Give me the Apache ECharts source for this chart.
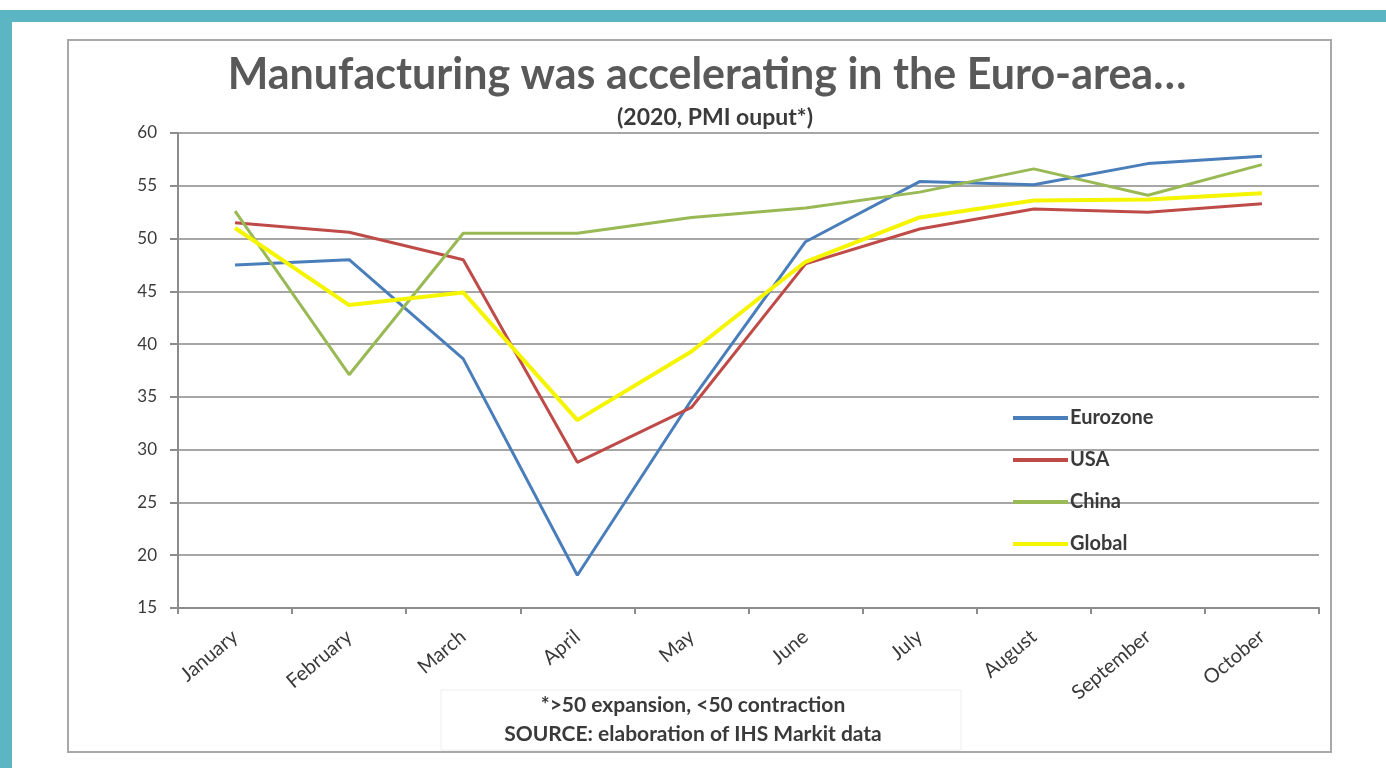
<!DOCTYPE html>
<html>
<head>
<meta charset="utf-8">
<title>Manufacturing PMI output 2020</title>
<script src="https://cdn.jsdelivr.net/npm/echarts@6/dist/echarts.min.js"></script>
<style>
  html, body { margin: 0; padding: 0; background: #ffffff; }
  #chart { width: 1386px; height: 768px; }
</style>
</head>
<body>
<div id="chart"></div>
<script>
// Months of 2020 on the category axis
const months = ['January', 'February', 'March', 'April', 'May', 'June',
  'July', 'August', 'September', 'October'];

// PMI output readings per region
const eurozone = [47.5, 48.0, 38.6, 18.1, 34.7, 49.7, 55.4, 55.1, 57.1, 57.8];
const usa      = [51.5, 50.6, 48.0, 28.8, 34.0, 47.6, 50.9, 52.8, 52.5, 53.3];
const china    = [52.6, 37.1, 50.5, 50.5, 52.0, 52.9, 54.4, 56.6, 54.1, 57.0];
const globalPmi = [51.0, 43.7, 44.9, 32.8, 39.3, 47.8, 52.0, 53.6, 53.7, 54.3];

// Value axis ticks
const yMin = 15, yMax = 60, yStep = 5;

const FONT = 'Lato, "Open Sans", sans-serif';
const TEXT = '#3a3a3a';
const GRID = '#a6a6a6';

const chart = echarts.init(document.getElementById('chart'), null, { renderer: 'canvas' });

const lineSeries = (name, data, color, width) => ({
  name, type: 'line', data,
  symbol: 'none',
  lineStyle: { color, width },
  itemStyle: { color },
  emphasis: { disabled: true }
});

chart.setOption({
  animation: false,
  backgroundColor: '#ffffff',
  title: [
    {
      text: 'Manufacturing was accelerating in the Euro-area…',
      left: 702, top: 49, textAlign: 'center',
      textStyle: { fontFamily: FONT, fontSize: 43, fontWeight: 'bold', color: '#595959' }
    },
    {
      text: '(2020, PMI ouput*)',
      left: 710, top: 101, textAlign: 'center',
      textStyle: { fontFamily: FONT, fontSize: 23, fontWeight: 'bold', color: TEXT }
    }
  ],
  legend: {
    orient: 'vertical',
    left: 1008, top: 403,
    itemWidth: 55, itemHeight: 4, itemGap: 22,
    icon: 'rect',
    selectedMode: false,
    textStyle: { fontFamily: FONT, fontSize: 20, fontWeight: 'bold', color: TEXT, padding: [0, 0, 0, -3] },
    data: ['Eurozone', 'USA', 'China', 'Global']
  },
  grid: { left: 178, right: 67, top: 133, bottom: 160 },
  xAxis: {
    type: 'category',
    data: months,
    boundaryGap: true,
    axisLine: { lineStyle: { color: '#8c8c8c', width: 2 } },
    axisTick: { show: true, length: 6, alignWithLabel: false, lineStyle: { color: '#8c8c8c', width: 2 } },
    axisLabel: { rotate: 40, margin: 26, fontFamily: FONT, fontSize: 20, color: TEXT, interval: 0 }
  },
  yAxis: {
    type: 'value',
    min: yMin, max: yMax, interval: yStep,
    axisLine: { show: true, lineStyle: { color: '#8c8c8c', width: 2 } },
    axisTick: { show: true, length: 8, lineStyle: { color: '#8c8c8c', width: 2 } },
    axisLabel: { margin: 21, fontFamily: FONT, fontSize: 17, color: TEXT },
    splitLine: { show: true, lineStyle: { color: GRID, width: 2 } }
  },
  series: [
    lineSeries('Eurozone', eurozone, '#4A7EBB', 3),
    lineSeries('USA', usa, '#BE4B48', 3),
    lineSeries('China', china, '#98B954', 3),
    lineSeries('Global', globalPmi, '#F5F500', 4)
  ],
  graphic: [
    // teal frame of the slide
    { type: 'rect', shape: { x: 0, y: 10, width: 1386, height: 12 }, style: { fill: '#5BB5C3' }, z: -10 },
    { type: 'rect', shape: { x: 0, y: 10, width: 12, height: 758 }, style: { fill: '#5BB5C3' }, z: -10 },
    // chart area border
    { type: 'rect', shape: { x: 68, y: 40, width: 1263, height: 712 },
      style: { fill: 'none', stroke: '#a8a8a8', lineWidth: 2 }, z: -9 },
    // footnote box
    { type: 'rect', shape: { x: 441, y: 690, width: 520, height: 60 },
      style: { fill: 'none', stroke: '#eeeeee', lineWidth: 1 }, z: -8 },
    { type: 'text', left: 'center', top: 695,
      style: { text: '*>50 expansion, <50 contraction', font: 'bold 21px ' + FONT, fill: TEXT, textAlign: 'center' } },
    { type: 'text', left: 'center', top: 724,
      style: { text: 'SOURCE: elaboration of IHS Markit data', font: 'bold 21px ' + FONT, fill: TEXT, textAlign: 'center' } }
  ]
});
</script>
</body>
</html>
